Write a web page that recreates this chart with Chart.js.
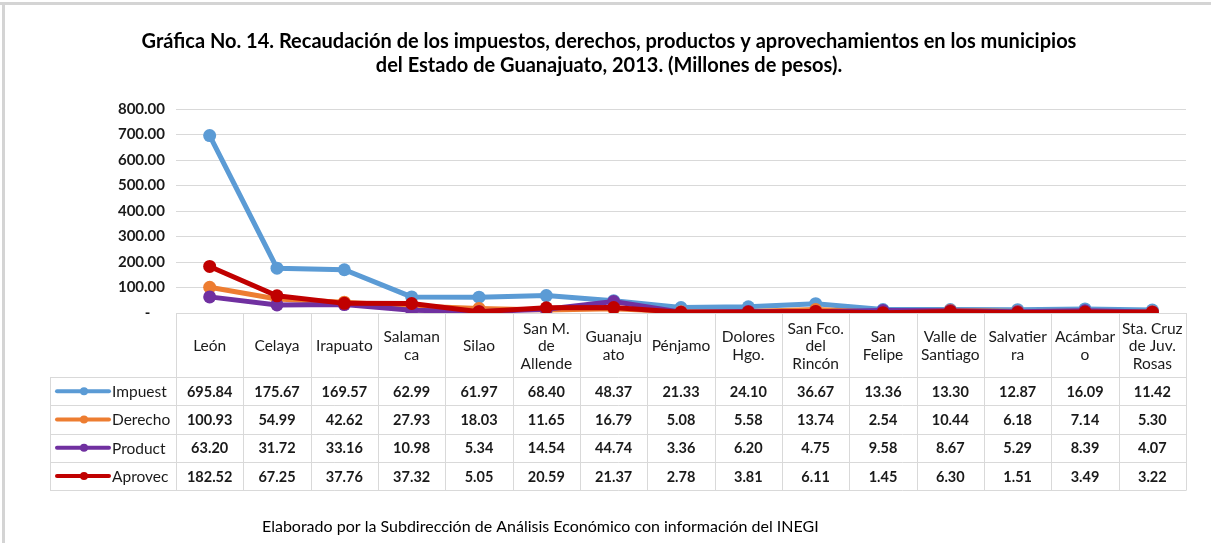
<!DOCTYPE html>
<html>
<head>
<meta charset="utf-8">
<script src="https://cdn.jsdelivr.net/npm/chart.js@4.4.1/dist/chart.umd.min.js"></script>
<style>
html, body { margin: 0; padding: 0; background: #fff; }
#wrap { width: 1211px; height: 543px; }
</style>
</head>
<body>
<div id="wrap"><canvas id="grafica"></canvas></div>
<script>
// municipios (etiquetas partidas como en la tabla de Excel)
const municipios = [
    ["León"], ["Celaya"], ["Irapuato"], ["Salaman", "ca"], ["Silao"],
    ["San M.", "de", "Allende"], ["Guanaju", "ato"], ["Pénjamo"], ["Dolores", "Hgo."],
    ["San Fco.", "del", "Rincón"], ["San", "Felipe"], ["Valle de", "Santiago"],
    ["Salvatier", "ra"], ["Acámbar", "o"], ["Sta. Cruz", "de Juv.", "Rosas"]
];
const impuestos = [695.84, 175.67, 169.57, 62.99, 61.97, 68.40, 48.37, 21.33, 24.10, 36.67, 13.36, 13.30, 12.87, 16.09, 11.42];
const derechos = [100.93, 54.99, 42.62, 27.93, 18.03, 11.65, 16.79, 5.08, 5.58, 13.74, 2.54, 10.44, 6.18, 7.14, 5.30];
const productos = [63.20, 31.72, 33.16, 10.98, 5.34, 14.54, 44.74, 3.36, 6.20, 4.75, 9.58, 8.67, 5.29, 8.39, 4.07];
const aprovechamientos = [182.52, 67.25, 37.76, 37.32, 5.05, 20.59, 21.37, 2.78, 3.81, 6.11, 1.45, 6.30, 1.51, 3.49, 3.22];
const series = ["Impuestos", "Derechos", "Productos", "Aprovechamientos"];
const colores = ["#5b9bd5", "#ed7d31", "#7030a0", "#c00000"];

const titulo = [
    "Gráfica No. 14. Recaudación de los impuestos, derechos, productos y aprovechamientos en los municipios",
    "del Estado de Guanajuato, 2013. (Millones de pesos)."
];
const nota = "Elaborado por la Subdirección de Análisis Económico con información del INEGI";

const FONT = "Lato, 'Liberation Sans', sans-serif";
const gris = "#d9d9d9";

// marco, titulo y nota al pie
const marco = {
    id: "marco",
    beforeDraw(chart) {
        const ctx = chart.ctx;
        ctx.save();
        ctx.fillStyle = "#fff";
        ctx.fillRect(0, 0, chart.width, chart.height);
        ctx.strokeStyle = "#d4d4d4";
        ctx.lineWidth = 3;
        ctx.beginPath();
        ctx.moveTo(0, 3.5); ctx.lineTo(chart.width, 3.5);
        ctx.moveTo(3.5, 3.5); ctx.lineTo(3.5, chart.height);
        ctx.stroke();
        ctx.fillStyle = "#000";
        ctx.textAlign = "center";
        ctx.textBaseline = "middle";
        ctx.font = "bold 20px " + FONT;
        ctx.fillText(titulo[0], 609, 42);
        ctx.fillText(titulo[1], 609, 66);
        ctx.textAlign = "left";
        ctx.font = "16px " + FONT;
        ctx.fillStyle = "#000";
        ctx.fillText(nota, 262, 527);
        ctx.restore();
    }
};

// recorta el texto por caracteres completos, como hace Excel
function ajustar(ctx, txt, maxW) {
    let t = txt;
    while (t.length > 1 && ctx.measureText(t).width > maxW) t = t.slice(0, -1);
    return t;
}

// tabla de datos bajo el eje x
const tabla = {
    id: "tabla",
    beforeDatasetsDraw(chart) {
        const ctx = chart.ctx;
        const x = chart.scales.x;
        const area = chart.chartArea;
        const n = chart.data.labels.length;
        const colW = (area.right - area.left) / n;
        const top = area.bottom;
        const headBottom = top + 64;
        const rowH = 28.3;
        const nRows = chart.data.datasets.length;
        const bottom = headBottom + rowH * nRows;
        const legLeft = 50;

        ctx.save();
        ctx.strokeStyle = gris;
        ctx.lineWidth = 1;
        ctx.beginPath();
        for (let i = 0; i < n; i++) {
            const px = Math.round(x.getPixelForValue(i) - colW / 2) + 0.5;
            ctx.moveTo(px, top); ctx.lineTo(px, bottom);
        }
        const last = Math.round(x.getPixelForValue(n - 1) + colW / 2) + 0.5;
        ctx.moveTo(last, top); ctx.lineTo(last, bottom);
        ctx.moveTo(legLeft + 0.5, headBottom); ctx.lineTo(legLeft + 0.5, bottom);
        ctx.moveTo(area.left, Math.round(top) + 0.5); ctx.lineTo(last, Math.round(top) + 0.5);
        for (let r = 0; r <= nRows; r++) {
            const py = Math.round(headBottom + r * rowH) + 0.5;
            ctx.moveTo(legLeft, py); ctx.lineTo(last, py);
        }
        ctx.stroke();

        // encabezados
        ctx.fillStyle = "#1a1a1a";
        ctx.textAlign = "center";
        ctx.textBaseline = "middle";
        ctx.font = "15.5px " + FONT;
        const lh = 17.5;
        chart.data.labels.forEach((lab, i) => {
            const cx = x.getPixelForValue(i);
            const cy = (top + headBottom) / 2;
            lab.forEach((t, k) => {
                ctx.fillText(t, cx, cy + (k - (lab.length - 1) / 2) * lh + 1);
            });
        });

        // valores y leyenda
        chart.data.datasets.forEach((ds, r) => {
            const cy = headBottom + (r + 0.5) * rowH + 1;
            ctx.font = "bold 14.5px " + FONT;
            ctx.fillStyle = "#1a1a1a";
            ctx.textAlign = "center";
            ds.data.forEach((v, i) => {
                ctx.fillText(v.toFixed(2), x.getPixelForValue(i), cy);
            });
            // muestra de la serie
            ctx.strokeStyle = ds.borderColor;
            ctx.lineWidth = 4;
            ctx.lineCap = "round";
            ctx.beginPath();
            ctx.moveTo(57, cy - 1); ctx.lineTo(109, cy - 1);
            ctx.stroke();
            ctx.fillStyle = ds.borderColor;
            ctx.beginPath();
            ctx.arc(84, cy - 1, 4, 0, Math.PI * 2);
            ctx.fill();
            ctx.fillStyle = "#1a1a1a";
            ctx.textAlign = "left";
            ctx.font = "15.5px " + FONT;
            ctx.fillText(ajustar(ctx, ds.label, area.left - 112 - 4), 112, cy);
        });
        ctx.restore();
    }
};

const valores = [impuestos, derechos, productos, aprovechamientos];

new Chart(document.getElementById("grafica"), {
    type: "line",
    data: {
        labels: municipios,
        datasets: series.map((s, i) => ({
            label: s,
            data: valores[i],
            borderColor: colores[i],
            backgroundColor: colores[i],
            borderWidth: 5,
            pointRadius: 6.5,
            pointHoverRadius: 6.5,
            pointBorderWidth: 0,
            tension: 0,
            order: series.length - i
        }))
    },
    options: {
        responsive: true,
        maintainAspectRatio: false,
        animation: false,
        layout: {
            padding: { top: 109, bottom: 230, left: 0, right: 25 }
        },
        scales: {
            x: {
                display: false,
                offset: true
            },
            y: {
                min: 0,
                max: 800,
                afterFit(s) { s.width = 176; },
                border: { display: false },
                grid: { color: gris, drawTicks: false },
                ticks: {
                    stepSize: 100,
                    padding: 11,
                    color: "#1a1a1a",
                    font: { family: FONT, size: 15, weight: "bold" },
                    callback: (v) => v === 0 ? "-    " : v.toFixed(2)
                }
            }
        },
        plugins: {
            legend: { display: false },
            tooltip: { enabled: false }
        }
    },
    plugins: [marco, tabla]
});
</script>
</body>
</html>
